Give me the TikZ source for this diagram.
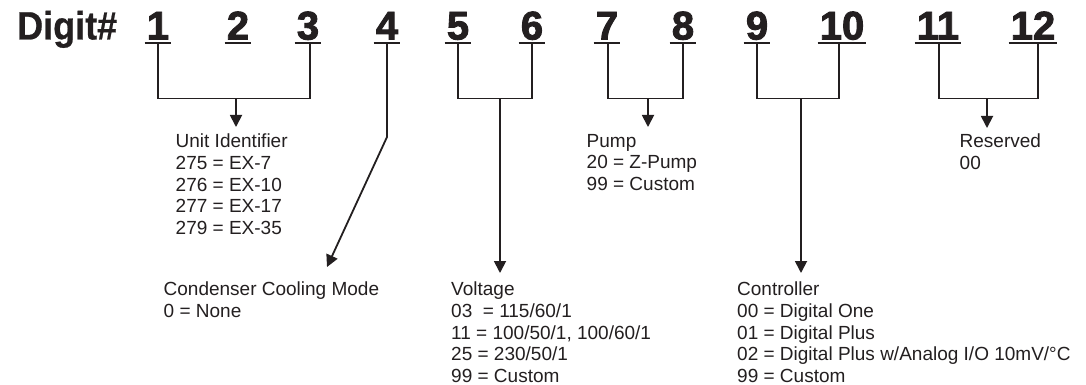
\documentclass[tikz,border=0pt]{standalone}
\usepackage{fontspec}
\setmainfont{Liberation Sans}
\newfontfamily\digfont{Liberation Sans Bold}[FakeBold=2.2]
\newfontfamily\hdfont{Liberation Sans Bold}[FakeBold=0.6]
\usetikzlibrary{arrows.meta}
\definecolor{ink}{RGB}{35,31,32}
\begin{document}
\begin{tikzpicture}[x=1pt,y=-1pt,
  dig/.style={font=\digfont\fontsize{40}{40}\selectfont, inner sep=0pt, anchor=base, text=ink},
  uline/.style={line width=2.8pt, draw=ink},
  brk/.style={line width=1.3pt, draw=ink},
  arr/.style={line width=1.8pt, draw=ink, -{Triangle[width=12pt,length=12pt]}},
  lbl/.style={font=\fontsize{19}{21.6}\selectfont, align=left, inner sep=0pt, anchor=north west, text=ink}]
\useasboundingbox[fill=white] (0,0) rectangle (1086,385);

\node[inner sep=0pt, anchor=base west, text=ink] (title) at (17,39.5)
  {\scalebox{1}[1.1]{\hdfont\fontsize{36}{36}\selectfont Digit\#}};

\foreach \n/\x/\s in {1/158/0,2/238/0,3/308/2,4/387/0,5/458/0,6/532/0,7/607/1,8/683/0,9/757/0,10/842/-3,11/938/1,12/1033/5}{
  \node[dig] (d\n) at (\x,39.5) {\n};
  \draw[uline] ([xshift=-2pt,yshift=-3.5pt]d\n.base west) -- ([xshift=2pt,yshift=-3.5pt]d\n.base east);
  \coordinate (u\n) at ([xshift=\s pt,yshift=-3.5pt]d\n.base);
}

% label blocks
\node[lbl] (unit) at (175.5,134) {Unit Identifier\\275 = EX-7\\276 = EX-10\\277 = EX-17\\279 = EX-35};
\node[lbl] (cond) at (163.5,282) {Condenser Cooling Mode\\0 = None};
\node[lbl] (volt) at (451,282) {Voltage\\03 \ = 115/60/1\\11 = 100/50/1, 100/60/1\\25 = 230/50/1\\99 = Custom};
\node[lbl] (pump) at (586.5,134) {Pump\\20 = Z-Pump\\99 = Custom};
\node[lbl] (ctrl) at (737,282) {Controller\\00 = Digital One\\01 = Digital Plus\\02 = Digital Plus w/Analog I/O 10mV/\textdegree C\\99 = Custom};
\node[lbl] (res) at (959.5,134) {Reserved\\00};

% brackets
\coordinate (b123) at (236,98.5);
\coordinate (b56) at (500,98.5);
\coordinate (b78) at (648,98.5);
\coordinate (b910) at (801,98.5);
\coordinate (b1112) at (987,98.5);
\draw[brk] (u1) |- (b123) -| (u3);
\draw[brk] (u5) |- (b56) -| (u6);
\draw[brk] (u7) |- (b78) -| (u8);
\draw[brk] (u9) |- (b910) -| (u10);
\draw[brk] (u11) |- (b1112) -| (u12);

% arrow ends
\coordinate (t123) at (236,127);
\coordinate (k4) at (387,137);
\coordinate (t4) at (327,267);
\coordinate (t56) at (500,273);
\coordinate (t78) at (648,127);
\coordinate (t910) at (801,273);
\coordinate (t1112) at (987,128);

\draw[arr] (b123) -- (t123);
\draw[arr] (u4) -- (k4) -- (t4);
\draw[arr] (b56) -- (t56);
\draw[arr] (b78) -- (t78);
\draw[arr] (b910) -- (t910);
\draw[arr] (b1112) -- (t1112);
\end{tikzpicture}
\end{document}
